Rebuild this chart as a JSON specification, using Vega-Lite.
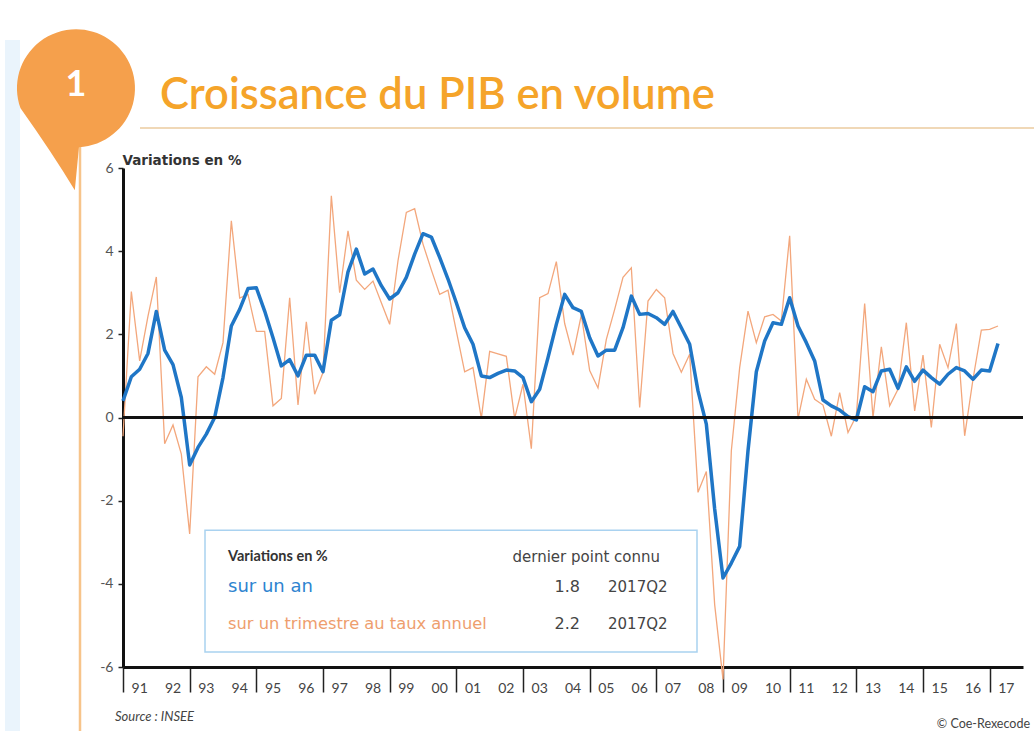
{
  "$schema": "https://vega.github.io/schema/vega-lite/v6.json",
  "width": 900,
  "height": 499,
  "autosize": "none",
  "padding": {"left": 123, "top": 168, "right": 11, "bottom": 64},
  "background": "white",
  "config": {
    "view": {"stroke": null},
    "font": "Lato"
  },
  "datasets": {
    "annees": [
      {"annee": 1991.5, "label": "91"}, {"annee": 1992.5, "label": "92"}, {"annee": 1993.5, "label": "93"},
      {"annee": 1994.5, "label": "94"}, {"annee": 1995.5, "label": "95"}, {"annee": 1996.5, "label": "96"},
      {"annee": 1997.5, "label": "97"}, {"annee": 1998.5, "label": "98"}, {"annee": 1999.5, "label": "99"},
      {"annee": 2000.5, "label": "00"}, {"annee": 2001.5, "label": "01"}, {"annee": 2002.5, "label": "02"},
      {"annee": 2003.5, "label": "03"}, {"annee": 2004.5, "label": "04"}, {"annee": 2005.5, "label": "05"},
      {"annee": 2006.5, "label": "06"}, {"annee": 2007.5, "label": "07"}, {"annee": 2008.5, "label": "08"},
      {"annee": 2009.5, "label": "09"}, {"annee": 2010.5, "label": "10"}, {"annee": 2011.5, "label": "11"},
      {"annee": 2012.5, "label": "12"}, {"annee": 2013.5, "label": "13"}, {"annee": 2014.5, "label": "14"},
      {"annee": 2015.5, "label": "15"}, {"annee": 2016.5, "label": "16"}, {"annee": 2017.5, "label": "17"}
    ],
    "pib": [
      {"t": 1991.0, "an": 0.4, "trim": -0.45},
      {"t": 1991.25, "an": 0.98, "trim": 3.03},
      {"t": 1991.5, "an": 1.16, "trim": 1.36},
      {"t": 1991.75, "an": 1.54, "trim": 2.44},
      {"t": 1992.0, "an": 2.55, "trim": 3.38},
      {"t": 1992.25, "an": 1.62, "trim": -0.63},
      {"t": 1992.5, "an": 1.27, "trim": -0.18},
      {"t": 1992.75, "an": 0.48, "trim": -0.88},
      {"t": 1993.0, "an": -1.14, "trim": -2.8},
      {"t": 1993.25, "an": -0.72, "trim": 0.98},
      {"t": 1993.5, "an": -0.4, "trim": 1.22},
      {"t": 1993.75, "an": 0.0, "trim": 1.04},
      {"t": 1994.0, "an": 0.96, "trim": 1.8},
      {"t": 1994.25, "an": 2.2, "trim": 4.73},
      {"t": 1994.5, "an": 2.6, "trim": 2.87},
      {"t": 1994.75, "an": 3.1, "trim": 2.96},
      {"t": 1995.0, "an": 3.12, "trim": 2.07},
      {"t": 1995.25, "an": 2.56, "trim": 2.07},
      {"t": 1995.5, "an": 1.92, "trim": 0.28},
      {"t": 1995.75, "an": 1.24, "trim": 0.46},
      {"t": 1996.0, "an": 1.39, "trim": 2.88},
      {"t": 1996.25, "an": 1.0, "trim": 0.3},
      {"t": 1996.5, "an": 1.5, "trim": 2.3},
      {"t": 1996.75, "an": 1.5, "trim": 0.56},
      {"t": 1997.0, "an": 1.1, "trim": 1.08},
      {"t": 1997.25, "an": 2.34, "trim": 5.33},
      {"t": 1997.5, "an": 2.47, "trim": 3.0},
      {"t": 1997.75, "an": 3.5, "trim": 4.49},
      {"t": 1998.0, "an": 4.05, "trim": 3.3},
      {"t": 1998.25, "an": 3.45, "trim": 3.08},
      {"t": 1998.5, "an": 3.57, "trim": 3.28},
      {"t": 1998.75, "an": 3.17, "trim": 2.76},
      {"t": 1999.0, "an": 2.85, "trim": 2.24},
      {"t": 1999.25, "an": 3.0, "trim": 3.77},
      {"t": 1999.5, "an": 3.37, "trim": 4.93},
      {"t": 1999.75, "an": 3.93, "trim": 5.02},
      {"t": 2000.0, "an": 4.42, "trim": 4.17},
      {"t": 2000.25, "an": 4.34, "trim": 3.55},
      {"t": 2000.5, "an": 3.85, "trim": 2.96},
      {"t": 2000.75, "an": 3.33, "trim": 3.06},
      {"t": 2001.0, "an": 2.76, "trim": 2.08},
      {"t": 2001.25, "an": 2.16, "trim": 1.1},
      {"t": 2001.5, "an": 1.76, "trim": 1.2},
      {"t": 2001.75, "an": 1.0, "trim": -0.02},
      {"t": 2002.0, "an": 0.96, "trim": 1.59},
      {"t": 2002.25, "an": 1.06, "trim": 1.53},
      {"t": 2002.5, "an": 1.14, "trim": 1.47},
      {"t": 2002.75, "an": 1.12, "trim": -0.02},
      {"t": 2003.0, "an": 0.96, "trim": 0.8},
      {"t": 2003.25, "an": 0.38, "trim": -0.75},
      {"t": 2003.5, "an": 0.68, "trim": 2.88},
      {"t": 2003.75, "an": 1.44, "trim": 2.98},
      {"t": 2004.0, "an": 2.24, "trim": 3.75},
      {"t": 2004.25, "an": 2.96, "trim": 2.26},
      {"t": 2004.5, "an": 2.64, "trim": 1.5},
      {"t": 2004.75, "an": 2.55, "trim": 2.47},
      {"t": 2005.0, "an": 1.92, "trim": 1.13},
      {"t": 2005.25, "an": 1.48, "trim": 0.71},
      {"t": 2005.5, "an": 1.62, "trim": 1.88},
      {"t": 2005.75, "an": 1.62, "trim": 2.6},
      {"t": 2006.0, "an": 2.16, "trim": 3.37},
      {"t": 2006.25, "an": 2.92, "trim": 3.6},
      {"t": 2006.5, "an": 2.48, "trim": 0.24},
      {"t": 2006.75, "an": 2.5, "trim": 2.8},
      {"t": 2007.0, "an": 2.4, "trim": 3.08},
      {"t": 2007.25, "an": 2.24, "trim": 2.88},
      {"t": 2007.5, "an": 2.55, "trim": 1.54},
      {"t": 2007.75, "an": 2.16, "trim": 1.09},
      {"t": 2008.0, "an": 1.76, "trim": 1.52},
      {"t": 2008.25, "an": 0.64, "trim": -1.8},
      {"t": 2008.5, "an": -0.16, "trim": -1.3},
      {"t": 2008.75, "an": -2.2, "trim": -4.5},
      {"t": 2009.0, "an": -3.86, "trim": -6.3},
      {"t": 2009.25, "an": -3.5, "trim": -0.8},
      {"t": 2009.5, "an": -3.1, "trim": 1.2},
      {"t": 2009.75, "an": -0.8, "trim": 2.56},
      {"t": 2010.0, "an": 1.1, "trim": 1.8},
      {"t": 2010.25, "an": 1.84, "trim": 2.42},
      {"t": 2010.5, "an": 2.28, "trim": 2.48},
      {"t": 2010.75, "an": 2.24, "trim": 2.32},
      {"t": 2011.0, "an": 2.88, "trim": 4.37},
      {"t": 2011.25, "an": 2.2, "trim": -0.04},
      {"t": 2011.5, "an": 1.8, "trim": 0.92},
      {"t": 2011.75, "an": 1.36, "trim": 0.44},
      {"t": 2012.0, "an": 0.42, "trim": 0.3},
      {"t": 2012.25, "an": 0.28, "trim": -0.45},
      {"t": 2012.5, "an": 0.18, "trim": 0.6},
      {"t": 2012.75, "an": 0.02, "trim": -0.36},
      {"t": 2013.0, "an": -0.06, "trim": 0.04},
      {"t": 2013.25, "an": 0.74, "trim": 2.74},
      {"t": 2013.5, "an": 0.62, "trim": 0.0},
      {"t": 2013.75, "an": 1.12, "trim": 1.7},
      {"t": 2014.0, "an": 1.16, "trim": 0.28},
      {"t": 2014.25, "an": 0.7, "trim": 0.68},
      {"t": 2014.5, "an": 1.22, "trim": 2.28},
      {"t": 2014.75, "an": 0.87, "trim": 0.16},
      {"t": 2015.0, "an": 1.14, "trim": 1.5},
      {"t": 2015.25, "an": 0.96, "trim": -0.24},
      {"t": 2015.5, "an": 0.8, "trim": 1.76},
      {"t": 2015.75, "an": 1.04, "trim": 1.2},
      {"t": 2016.0, "an": 1.2, "trim": 2.26},
      {"t": 2016.25, "an": 1.12, "trim": -0.44},
      {"t": 2016.5, "an": 0.92, "trim": 0.92},
      {"t": 2016.75, "an": 1.14, "trim": 2.1},
      {"t": 2017.0, "an": 1.12, "trim": 2.12},
      {"t": 2017.25, "an": 1.78, "trim": 2.2}
    ]
  },
  "data": {"name": "pib"},
  "layer": [
    {
      "data": {"values": [{}]},
      "mark": {"type": "rect", "fill": "#EAF4FC"},
      "encoding": {
        "x": {"datum": 1987.46, "type": "quantitative"},
        "x2": {"datum": 1987.91},
        "y": {"datum": 9.08, "type": "quantitative"},
        "y2": {"datum": -7.54}
      }
    },
    {
      "data": {"values": [{}]},
      "mark": {"type": "rule", "color": "#F7C48A", "strokeWidth": 2.5},
      "encoding": {
        "x": {"datum": 1989.71, "type": "quantitative"},
        "y": {"datum": 6.79, "type": "quantitative"},
        "y2": {"datum": -7.6}
      }
    },
    {
      "data": {"values": [{}]},
      "mark": {"type": "rule", "color": "#EBCB9F", "strokeWidth": 1.5},
      "encoding": {
        "x": {"datum": 1991.51, "type": "quantitative"},
        "x2": {"datum": 2018.33},
        "y": {"datum": 6.96, "type": "quantitative"}
      }
    },
    {
      "data": {"values": [{}]},
      "mark": {
        "type": "point",
        "filled": true,
        "opacity": 1,
        "color": "#F5A04C",
        "size": 13924,
        "shape": "M -0.94 0.34 A 1 1 0 1 1 0.05 1.0 L -0.02 1.73 Q -0.4 1.1 -0.94 0.34 Z"
      },
      "encoding": {
        "x": {"datum": 1989.59, "type": "quantitative"},
        "y": {"datum": 7.92, "type": "quantitative"}
      }
    },
    {
      "data": {"values": [{}]},
      "mark": {"type": "text", "text": "1", "color": "white", "fontSize": 36, "fontWeight": "bold", "align": "center", "baseline": "middle"},
      "encoding": {
        "x": {"datum": 1989.59, "type": "quantitative"},
        "y": {"datum": 8.0, "type": "quantitative"}
      }
    },
    {
      "data": {"values": [{}]},
      "mark": {"type": "text", "text": "Croissance du PIB en volume", "color": "#F5A42A", "fontSize": 43.5, "fontWeight": 600, "align": "left", "baseline": "middle"},
      "encoding": {
        "x": {"datum": 1992.11, "type": "quantitative"},
        "y": {"datum": 7.74, "type": "quantitative"}
      }
    },
    {
      "data": {"values": [{}]},
      "mark": {"type": "rect", "fill": "white", "stroke": "#A9D2F0", "strokeWidth": 1.5},
      "encoding": {
        "x": {"datum": 1993.46, "type": "quantitative"},
        "x2": {"datum": 2008.22},
        "y": {"datum": -2.71, "type": "quantitative"},
        "y2": {"datum": -5.64}
      }
    },
    {
      "mark": {"type": "line", "color": "#F3A77C", "strokeWidth": 1.3},
      "encoding": {
        "x": {
          "field": "t",
          "type": "quantitative",
          "scale": {"domain": [1991, 2018], "nice": false, "zero": false},
          "axis": {
            "title": null,
            "values": [1991, 1992, 1993, 1994, 1995, 1996, 1997, 1998, 1999, 2000, 2001, 2002, 2003, 2004, 2005, 2006, 2007, 2008, 2009, 2010, 2011, 2012, 2013, 2014, 2015, 2016, 2017, 2018],
            "labels": false,
            "tickSize": 25,
            "tickColor": "#222",
            "tickWidth": 1.5,
            "domainColor": "#111",
            "domainWidth": 3,
            "grid": false
          }
        },
        "y": {
          "field": "trim",
          "type": "quantitative",
          "scale": {"domain": [-6, 6], "nice": false},
          "axis": {
            "title": "Variations en %",
            "titleAngle": 0,
            "titleAlign": "left",
            "titleBaseline": "middle",
            "titleX": -1,
            "titleY": -8,
            "titleFont": "DejaVu Sans",
            "titleFontSize": 13.5,
            "titleFontWeight": "bold",
            "titleColor": "#333",
            "values": [-6, -4, -2, 0, 2, 4, 6],
            "labelExpr": "toString(datum.value)",
            "tickSize": 5,
            "tickColor": "#222",
            "tickWidth": 1.5,
            "domainColor": "#111",
            "domainWidth": 3,
            "labelPadding": 5,
            "labelFontSize": 14,
            "labelColor": "#555",
            "grid": false
          }
        }
      }
    },
    {
      "mark": {"type": "line", "color": "#1F76C6", "strokeWidth": 3.5, "strokeJoin": "round"},
      "encoding": {
        "x": {"field": "t", "type": "quantitative"},
        "y": {"field": "an", "type": "quantitative"}
      }
    },
    {
      "data": {"values": [{}]},
      "mark": {"type": "rule", "color": "#111", "strokeWidth": 3},
      "encoding": {
        "y": {"datum": 0, "type": "quantitative"}
      }
    },
    {
      "data": {"name": "annees"},
      "mark": {"type": "text", "color": "#444", "fontSize": 14, "align": "center", "baseline": "middle"},
      "encoding": {
        "x": {"field": "annee", "type": "quantitative"},
        "y": {"datum": -6.53, "type": "quantitative"},
        "text": {"field": "label", "type": "nominal"}
      }
    },
    {
      "data": {"values": [{}]},
      "mark": {"type": "text", "text": "Variations en %", "color": "#333", "fontSize": 14.5, "fontWeight": "bold", "align": "left", "baseline": "middle"},
      "encoding": {"x": {"datum": 1994.15, "type": "quantitative"}, "y": {"datum": -3.36, "type": "quantitative"}}
    },
    {
      "data": {"values": [{}]},
      "mark": {"type": "text", "text": "dernier point connu", "font": "DejaVu Sans", "color": "#444", "fontSize": 15, "align": "right", "baseline": "middle"},
      "encoding": {"x": {"datum": 2007.11, "type": "quantitative"}, "y": {"datum": -3.36, "type": "quantitative"}}
    },
    {
      "data": {"values": [{}]},
      "mark": {"type": "text", "text": "sur un an", "font": "DejaVu Sans", "color": "#2E84D0", "fontSize": 18, "align": "left", "baseline": "middle"},
      "encoding": {"x": {"datum": 1994.15, "type": "quantitative"}, "y": {"datum": -4.08, "type": "quantitative"}}
    },
    {
      "data": {"values": [{}]},
      "mark": {"type": "text", "text": "1.8", "font": "DejaVu Sans", "color": "#444", "fontSize": 16, "align": "right", "baseline": "middle"},
      "encoding": {"x": {"datum": 2004.71, "type": "quantitative"}, "y": {"datum": -4.08, "type": "quantitative"}}
    },
    {
      "data": {"values": [{}]},
      "mark": {"type": "text", "text": "2017Q2", "font": "DejaVu Sans", "color": "#444", "fontSize": 15, "align": "left", "baseline": "middle"},
      "encoding": {"x": {"datum": 2005.55, "type": "quantitative"}, "y": {"datum": -4.08, "type": "quantitative"}}
    },
    {
      "data": {"values": [{}]},
      "mark": {"type": "text", "text": "sur un trimestre au taux annuel", "font": "DejaVu Sans", "color": "#EE9E6E", "fontSize": 16.3, "align": "left", "baseline": "middle"},
      "encoding": {"x": {"datum": 1994.15, "type": "quantitative"}, "y": {"datum": -4.97, "type": "quantitative"}}
    },
    {
      "data": {"values": [{}]},
      "mark": {"type": "text", "text": "2.2", "font": "DejaVu Sans", "color": "#444", "fontSize": 16, "align": "right", "baseline": "middle"},
      "encoding": {"x": {"datum": 2004.71, "type": "quantitative"}, "y": {"datum": -4.97, "type": "quantitative"}}
    },
    {
      "data": {"values": [{}]},
      "mark": {"type": "text", "text": "2017Q2", "font": "DejaVu Sans", "color": "#444", "fontSize": 15, "align": "left", "baseline": "middle"},
      "encoding": {"x": {"datum": 2005.55, "type": "quantitative"}, "y": {"datum": -4.97, "type": "quantitative"}}
    },
    {
      "data": {"values": [{}]},
      "mark": {"type": "text", "text": "Source : INSEE", "color": "#444", "fontSize": 13, "fontStyle": "italic", "align": "left", "baseline": "middle"},
      "encoding": {"x": {"datum": 1990.76, "type": "quantitative"}, "y": {"datum": -7.2, "type": "quantitative"}}
    },
    {
      "data": {"values": [{}]},
      "mark": {"type": "text", "text": "© Coe-Rexecode", "color": "#444", "fontSize": 12.5, "align": "right", "baseline": "middle"},
      "encoding": {"x": {"datum": 2018.21, "type": "quantitative"}, "y": {"datum": -7.37, "type": "quantitative"}}
    }
  ]
}
